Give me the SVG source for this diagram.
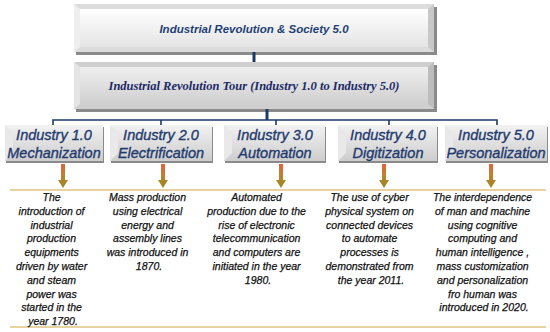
<svg xmlns="http://www.w3.org/2000/svg" width="550" height="332" viewBox="0 0 550 332">
<defs>
<linearGradient id="g1" x1="0" y1="0" x2="0" y2="1">
<stop offset="0" stop-color="#ffffff"/><stop offset="1" stop-color="#e4e4e4"/>
</linearGradient>
<linearGradient id="g2" x1="0" y1="0" x2="0" y2="1">
<stop offset="0" stop-color="#efefef"/><stop offset="1" stop-color="#cfcfcf"/>
</linearGradient>
<linearGradient id="g3" x1="0" y1="0" x2="0" y2="1">
<stop offset="0" stop-color="#f2f2f2"/><stop offset="1" stop-color="#cdcdcd"/>
</linearGradient>
<linearGradient id="ga" x1="0" y1="164" x2="0" y2="188" gradientUnits="userSpaceOnUse">
<stop offset="0" stop-color="#e8603c"/><stop offset="0.45" stop-color="#c08030"/><stop offset="1" stop-color="#948a20"/>
</linearGradient>
<path id="arr" d="M-2,164 H2 V180 H5 L0,188 L-5,180 H-2 Z" fill="url(#ga)"/>
</defs>
<style>
.t1{font-family:"Liberation Sans",Arial,sans-serif;font-weight:bold;font-style:italic;font-size:11.5px;fill:#1f3f74}
.t2{font-family:"Liberation Serif","Times New Roman",serif;font-weight:bold;font-style:italic;font-size:12.5px;fill:#1c2a66}
.ti{font-family:"Liberation Sans",Arial,sans-serif;font-style:italic;font-size:14.5px;fill:#1f3a6e;stroke:#1f3a6e;stroke-width:0.35}
.tb{font-family:"Liberation Sans",Arial,sans-serif;font-style:italic;font-size:10.5px;fill:#111;stroke:#111;stroke-width:0.25}
.shadow{fill:#8a8a8a}
.conn{stroke:#1c3a66;fill:none}
.rule{stroke:#e6d3a0;stroke-width:2}
</style>

<g id="society">
<rect class="shadow" x="76" y="7" width="361" height="48"/>
<rect x="74" y="4" width="360" height="48" fill="#dcdcdc"/>
<rect x="80" y="9" width="348" height="38" fill="url(#g1)"/>
<path d="M74,4 L80,9 L80,47 L74,52 Z" fill="#eeeeee"/>
<path d="M434,4 L428,9 L428,47 L434,52 Z" fill="#c8c8c8"/>
<text class="t1" x="254" y="33" text-anchor="middle">Industrial Revolution &amp; Society 5.0</text>
</g>

<g id="tour">
<rect class="shadow" x="76" y="65" width="361" height="47"/>
<rect x="74" y="62" width="360" height="47" fill="#cfcfcf"/>
<rect x="80" y="67" width="348" height="37" fill="url(#g2)"/>
<path d="M74,62 L80,67 L80,104 L74,109 Z" fill="#e4e4e4"/>
<path d="M434,62 L428,67 L428,104 L434,109 Z" fill="#bdbdbd"/>
<text class="t2" x="254" y="90" text-anchor="middle">Industrial Revolution Tour (Industry 1.0 to Industry 5.0)</text>
</g>

<g id="connectors">
<line class="conn" x1="254" y1="52" x2="254" y2="62" stroke-width="3"/>
<line class="conn" x1="267" y1="109" x2="267" y2="120" stroke-width="3"/>
<path class="conn" stroke-width="1.6" d="M53,125 V120 H497 V125 M161,120 V125 M276,120 V125 M389,120 V125"/>
<use href="#arr" x="63"/>
<use href="#arr" x="163"/>
<use href="#arr" x="281"/>
<use href="#arr" x="384"/>
<use href="#arr" x="491"/>
</g>

<g id="ind1">
<rect class="shadow" x="6" y="127" width="98" height="36"/>
<rect x="5" y="125" width="98" height="36" fill="url(#g3)"/>
<path d="M5,125 L13,133 L13,153 L5,161 Z" fill="#e9e9e9"/>
<text class="ti" x="54" y="140" text-anchor="middle">Industry 1.0</text>
<text class="ti" x="54" y="158" text-anchor="middle">Mechanization</text>
</g>
<g id="ind2">
<rect class="shadow" x="111" y="127" width="102" height="36"/>
<rect x="110" y="125" width="102" height="36" fill="url(#g3)"/>
<path d="M110,125 L118,133 L118,153 L110,161 Z" fill="#e9e9e9"/>
<text class="ti" x="161" y="140" text-anchor="middle">Industry 2.0</text>
<text class="ti" x="161" y="158" text-anchor="middle">Electrification</text>
</g>
<g id="ind3">
<rect class="shadow" x="225" y="127" width="101" height="36"/>
<rect x="224" y="125" width="101" height="36" fill="url(#g3)"/>
<path d="M224,125 L232,133 L232,153 L224,161 Z" fill="#e9e9e9"/>
<text class="ti" x="275" y="140" text-anchor="middle">Industry 3.0</text>
<text class="ti" x="275" y="158" text-anchor="middle">Automation</text>
</g>
<g id="ind4">
<rect class="shadow" x="339" y="127" width="99" height="36"/>
<rect x="338" y="125" width="99" height="36" fill="url(#g3)"/>
<path d="M338,125 L346,133 L346,153 L338,161 Z" fill="#e9e9e9"/>
<text class="ti" x="388" y="140" text-anchor="middle">Industry 4.0</text>
<text class="ti" x="388" y="158" text-anchor="middle">Digitization</text>
</g>
<g id="ind5">
<rect class="shadow" x="446" y="127" width="102" height="36"/>
<rect x="445" y="125" width="102" height="36" fill="url(#g3)"/>
<path d="M445,125 L453,133 L453,153 L445,161 Z" fill="#e9e9e9"/>
<text class="ti" x="496" y="140" text-anchor="middle">Industry 5.0</text>
<text class="ti" x="496" y="158" text-anchor="middle">Personalization</text>
</g>

<line class="rule" x1="10" y1="190" x2="546" y2="190"/>
<line class="rule" x1="10" y1="327" x2="546" y2="327"/>

<g id="desc1">
<text class="tb" text-anchor="middle">
<tspan x="53" y="201">The</tspan>
<tspan x="53" y="214.8">introduction of</tspan>
<tspan x="53" y="228.6">industrial</tspan>
<tspan x="53" y="242.4">production</tspan>
<tspan x="53" y="256.2">equipments</tspan>
<tspan x="53" y="270">driven by water</tspan>
<tspan x="53" y="283.8">and steam</tspan>
<tspan x="53" y="297.6">power was</tspan>
<tspan x="53" y="311.4">started in the</tspan>
<tspan x="53" y="325.2">year 1780.</tspan>
</text>
</g>
<g id="desc2">
<text class="tb" text-anchor="middle">
<tspan x="149" y="201">Mass production</tspan>
<tspan x="149" y="214.8">using electrical</tspan>
<tspan x="149" y="228.6">energy and</tspan>
<tspan x="149" y="242.4">assembly lines</tspan>
<tspan x="149" y="256.2">was introduced in</tspan>
<tspan x="149" y="270">1870.</tspan>
</text>
</g>
<g id="desc3">
<text class="tb" text-anchor="middle">
<tspan x="258" y="201">Automated</tspan>
<tspan x="258" y="214.8">production due to the</tspan>
<tspan x="258" y="228.6">rise of electronic</tspan>
<tspan x="258" y="242.4">telecommunication</tspan>
<tspan x="258" y="256.2">and computers are</tspan>
<tspan x="258" y="270">initiated in the year</tspan>
<tspan x="258" y="283.8">1980.</tspan>
</text>
</g>
<g id="desc4">
<text class="tb" text-anchor="middle">
<tspan x="371" y="201">The use of cyber</tspan>
<tspan x="371" y="214.8">physical system on</tspan>
<tspan x="371" y="228.6">connected devices</tspan>
<tspan x="371" y="242.4">to automate</tspan>
<tspan x="371" y="256.2">processes is</tspan>
<tspan x="371" y="270">demonstrated from</tspan>
<tspan x="371" y="283.8">the year 2011.</tspan>
</text>
</g>
<g id="desc5">
<text class="tb" text-anchor="middle">
<tspan x="484" y="201">The interdependence</tspan>
<tspan x="484" y="214.8">of man and machine</tspan>
<tspan x="484" y="228.6">using cognitive</tspan>
<tspan x="484" y="242.4">computing and</tspan>
<tspan x="484" y="256.2">human intelligence  ,</tspan>
<tspan x="484" y="270">mass customization</tspan>
<tspan x="484" y="283.8">and personalization</tspan>
<tspan x="484" y="297.6">fro human was</tspan>
<tspan x="484" y="311.4">introduced in 2020.</tspan>
</text>
</g>
</svg>
